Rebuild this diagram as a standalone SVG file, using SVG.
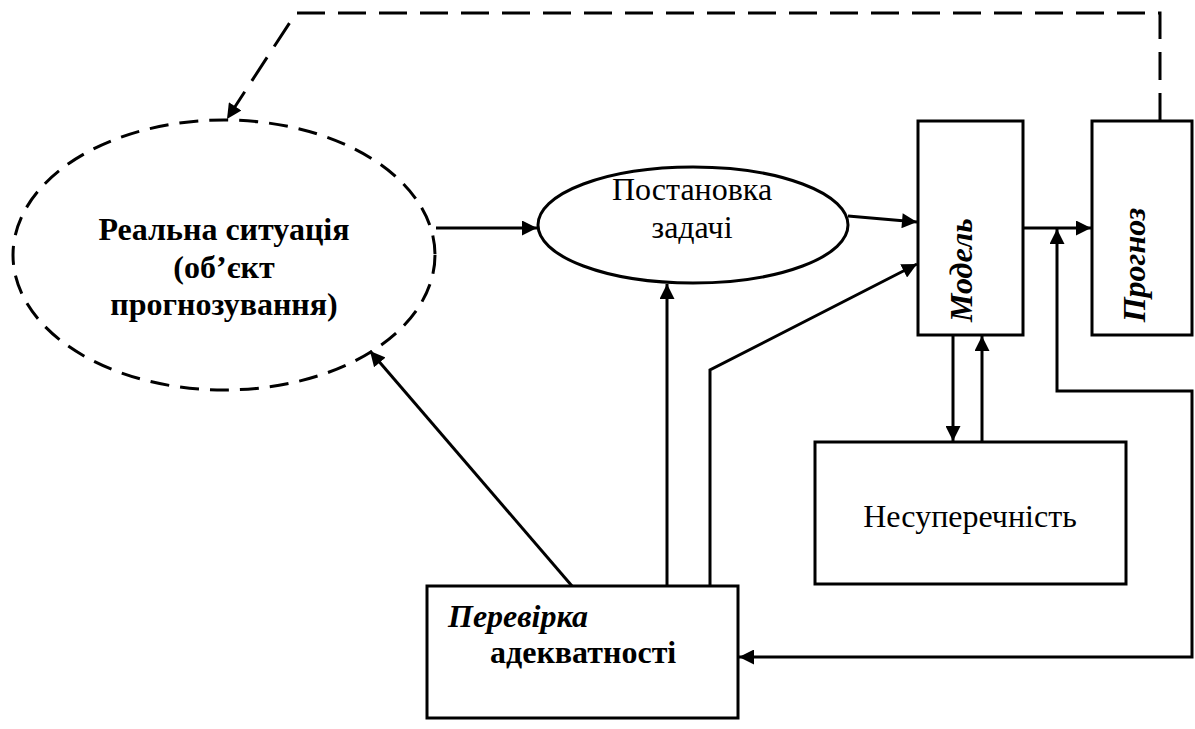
<svg xmlns="http://www.w3.org/2000/svg" width="1195" height="729" viewBox="0 0 1195 729">
<style>
.ln{fill:none;stroke:#000;stroke-width:3}
.bx{fill:#fff;stroke:#000;stroke-width:3}
text{font-family:"Liberation Serif","Times New Roman","DejaVu Serif",serif;fill:#000;text-anchor:middle;font-size:32px}
.b{font-weight:bold}
.i{font-style:italic}
</style>
<defs>
<marker id="ah" viewBox="0 0 10 10" refX="10" refY="5" markerWidth="5.2" markerHeight="5" markerUnits="strokeWidth" orient="auto-start-reverse"><path d="M0,0 L10,5 L0,10 z" fill="#000"/></marker>
</defs>
<g id="real">
<ellipse cx="224" cy="255" rx="211" ry="135" fill="none" stroke="#000" stroke-width="3" stroke-dasharray="19 11"/>
<text class="b" x="224" y="240">Реальна ситуація</text>
<text class="b" x="224" y="278">(об’єкт</text>
<text class="b" x="224" y="315">прогнозування)</text>
</g>
<g id="post">
<ellipse cx="693" cy="225" rx="155" ry="58" class="bx"/>
<text x="692" y="200">Постановка</text>
<text x="692" y="238">задачі</text>
</g>
<g id="model">
<rect x="918" y="121" width="105" height="214" class="bx"/>
<text class="b i" transform="translate(972,270) rotate(-90)">Модель</text>
</g>
<g id="prognoz">
<rect x="1092" y="121" width="100" height="214" class="bx"/>
<text class="b i" transform="translate(1145,265) rotate(-90)">Прогноз</text>
</g>
<g id="nesup">
<rect x="815" y="442" width="311" height="142" class="bx"/>
<text x="970" y="527">Несуперечність</text>
</g>
<g id="perev">
<rect x="427" y="586" width="311" height="132" class="bx"/>
<text class="b i" x="448" y="627" style="text-anchor:start">Перевірка</text>
<text class="b" x="490" y="663" style="text-anchor:start">адекватності</text>
</g>
<g id="connectors">
<path class="ln" d="M1160,121 V13 H296 L227,119" stroke-dasharray="28 13" marker-end="url(#ah)"/>
<path class="ln" d="M436,228 H537" marker-end="url(#ah)"/>
<path class="ln" d="M848,216 L917,222" marker-end="url(#ah)"/>
<path class="ln" d="M710,586 V370 L917,264" marker-end="url(#ah)"/>
<path class="ln" d="M667,586 V284" marker-end="url(#ah)"/>
<path class="ln" d="M572,586 L370,351" marker-end="url(#ah)"/>
<path class="ln" d="M1023,228 H1091" marker-end="url(#ah)"/>
<path class="ln" d="M1057,229 V391 H1192 V657 H739" marker-start="url(#ah)" marker-end="url(#ah)"/>
<path class="ln" d="M953,335 V441" marker-end="url(#ah)"/>
<path class="ln" d="M982,442 V336" marker-end="url(#ah)"/>
</g>
</svg>
